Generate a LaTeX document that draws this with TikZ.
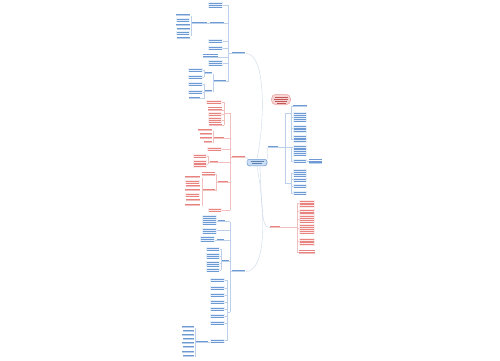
\documentclass[tikz,border=0pt]{standalone}
\definecolor{bT}{HTML}{6E9AD3}
\definecolor{bF}{HTML}{E8F0FB}
\definecolor{bL}{HTML}{BCD0EA}
\definecolor{rT}{HTML}{E8847F}
\definecolor{rF}{HTML}{FDEBEB}
\definecolor{rL}{HTML}{F2BFBF}
\definecolor{mainL}{HTML}{CCD9E9}
\definecolor{rootF}{HTML}{C9DDF4}
\definecolor{rootD}{HTML}{6A98D0}
\definecolor{titF}{HTML}{F9D4D4}
\definecolor{titD}{HTML}{E8A0A0}
\definecolor{titT}{HTML}{C05858}
\tikzset{tl/.style={line width=0.55pt}, conn/.style={line width=0.4pt}}
\newcommand\mmblk[5]{%
  \fill[#5F] (#1,#2) rectangle ++(#3,{#4*1.8+0.8});
  \foreach \k in {1,...,#4}{\draw[#5T,tl] ({#1+0.6},{#2+\k*1.8-0.2}) -- ++({#3-1.2},0);}
}
\newcommand\mmtxt[5]{%
  \foreach \k in {1,...,#4}{\draw[#5T,tl] (#1,{#2+\k*1.8-0.2}) -- ++(#3,0);}
  \draw[#5L,conn] (#1,{#2+#4*1.8+0.6}) -- ++(#3,0);
}
\newcommand\mmlab[4]{%
  \draw[#4T,tl] (#1,{#2-1}) -- ++(#3,0);
  \draw[#4L,conn] (#1,{#2+0.5}) -- ++(#3,0);
}
\newcommand\mmtick[4]{\draw[#4L,conn] (#1,#3) -- (#2,#3);}
\newcommand\mmvbr[4]{\draw[#4L,conn] (#1,#2) -- (#1,#3);}
\begin{document}
\begin{tikzpicture}[x=1pt,y=-1pt]
\useasboundingbox (0,0) rectangle (500,360);
\fill[white] (0,0) rectangle (500,360);

% ---------- root and title
\node[draw=rootD, fill=rootF, rounded corners=2.5pt, line width=0.5pt,
      minimum width=20pt, minimum height=6.5pt, inner sep=0pt] (root) at (257,162.5) {};
\draw[rootD!85!black,line width=0.5pt] (250.5,161.3) -- (263.5,161.3);
\draw[rootD!85!black,line width=0.5pt] (252,163.6) -- (262,163.6);

\node[draw=titD, fill=titF, rounded corners=4.5pt, line width=0.5pt,
      minimum width=19pt, minimum height=10.5pt, inner sep=0pt] (title) at (281,99.5) {};
\foreach \yy/\ww in {96.8/13,98.9/14,101/12,103/9}{\draw[titT,line width=0.5pt] ({281-\ww/2},\yy) -- ++(\ww,0);}

% ---------- main curves
\draw[mainL,conn] (root.north) .. controls (265,120) and (266,53.5) .. (246,53.5);
\draw[mainL,conn] (root.south) .. controls (266,215) and (266,271.5) .. (246,271.5);
\draw[mainL,conn] (root.west) .. controls (249,160) and (248,157.5) .. (245,157.5);
\draw[mainL,conn] (root.north east) .. controls (268,156) and (266,147.5) .. (268,147.5);
\draw[mainL,conn] ([xshift=3pt]root.south) .. controls (262,215) and (262,227.5) .. (270,227.5);

% ---------- A (top left, blue)
\mmlab{232}{53}{13}{b}
\mmtick{228}{232}{53.5}{b}
\mmvbr{228}{5}{81.5}{b}
\mmblk{208}{2}{15}{3}{b}  \mmtick{223}{228}{5}{b}
\mmlab{210}{23}{14}{b}    \mmtick{224}{228}{23.5}{b}
\mmlab{192}{23}{15}{b}    \mmtick{207}{210}{23.5}{b}
\mmvbr{191}{15.5}{35.5}{b}
\mmlab{176}{15}{14}{b}
\mmblk{176}{17.5}{14}{2}{b}
\mmlab{176}{25}{14}{b}
\mmlab{177}{29}{13}{b}
\mmblk{176}{31}{14}{2}{b}
\mmlab{177}{38}{13}{b}
\mmblk{208}{39}{15}{2}{b} \mmtick{223}{228}{41}{b}
\mmblk{208}{46}{15}{2}{b} \mmtick{223}{228}{48}{b}
\mmtxt{203}{52.5}{15}{2}{b} \mmtick{218}{228}{57}{b}
\mmblk{208}{60}{15}{3}{b} \mmtick{223}{228}{63}{b}
\mmlab{214}{81}{12}{b}    \mmtick{226}{228}{81.5}{b}
\mmvbr{213}{73.5}{91.5}{b} \mmtick{213}{214}{81.5}{b}
\mmlab{205}{73}{7}{b}
\mmvbr{204}{70}{77}{b}    \mmtick{204}{205}{73.5}{b}
\mmblk{188}{68}{15}{2}{b} \mmtick{203}{204}{70}{b}
\mmblk{188}{75}{15}{2}{b} \mmtick{203}{204}{77}{b}
\mmlab{205}{91}{7}{b}
\mmvbr{204}{84}{98.5}{b}  \mmtick{204}{205}{91.5}{b}
\mmblk{188}{82}{15}{2}{b} \mmtick{203}{204}{84}{b}
\mmblk{188}{90}{15}{2}{b} \mmtick{203}{204}{92}{b}
\mmlab{189}{98}{11}{b}    \mmtick{200}{204}{98.5}{b}

% ---------- B (middle left, red)
\mmlab{232}{157}{13}{r}
\mmtick{230}{232}{157.5}{r}
\mmvbr{230}{113}{210}{r}
\mmvbr{224}{102}{125}{r} \mmtick{224}{230}{113}{r}
\mmblk{206}{100}{16}{2}{r} \mmtick{222}{224}{102}{r}
\mmtxt{208}{106}{14}{2}{r} \mmtick{222}{224}{110}{r}
\mmblk{208}{112}{14}{2}{r} \mmtick{222}{224}{114}{r}
\mmblk{208}{117}{14}{3}{r} \mmtick{222}{224}{120}{r}
\mmlab{209}{125}{13}{r}    \mmtick{222}{224}{125}{r}
\mmlab{214}{138}{10}{r}    \mmtick{224}{230}{138.5}{r}
\mmvbr{213}{130.5}{142.5}{r} \mmtick{213}{214}{138.5}{r}
\mmlab{198}{130}{14}{r}
\mmlab{200}{134}{12}{r}
\mmlab{200}{138}{12}{r}
\mmlab{204}{142}{8}{r}
\mmblk{207}{147}{15}{2}{r} \mmtick{222}{230}{149}{r}
\mmlab{210}{162}{8}{r}     \mmtick{218}{230}{162.5}{r}
\mmvbr{208}{156}{164}{r}   \mmtick{208}{210}{162.5}{r}
\mmblk{193}{153.5}{14}{2}{r} \mmtick{207}{208}{156}{r}
\mmblk{193}{159.5}{14}{4}{r} \mmtick{207}{208}{164}{r}
\mmlab{218}{182}{10}{r}    \mmtick{228}{230}{182.5}{r}
\mmvbr{216}{174}{190.5}{r} \mmtick{216}{218}{182.5}{r}
\mmtxt{202}{170.5}{13}{2}{r} \mmtick{215}{216}{174}{r}
\mmlab{203}{190}{12}{r}    \mmtick{215}{216}{190.5}{r}
\mmvbr{202}{177.5}{205.5}{r} \mmtick{202}{203}{190.5}{r}
\mmlab{185}{177}{15}{r}
\mmblk{185}{179.5}{15}{2}{r}
\mmlab{186}{186}{14}{r}
\mmlab{185}{190}{15}{r}
\mmblk{185}{192.5}{15}{2}{r}
\mmlab{186}{200}{14}{r}
\mmlab{185}{205}{15}{r}
\mmblk{208}{208}{14}{2}{r} \mmtick{222}{230}{210}{r}

% ---------- C (bottom left, blue)
\mmlab{232}{271}{13}{b}
\mmtick{230}{232}{271.5}{b}
\mmvbr{230}{221.5}{312}{b}
\mmlab{218}{221}{7}{b}     \mmtick{225}{230}{221.5}{b}
\mmblk{202}{215}{15}{5}{b} \mmtick{217}{218}{221.5}{b}
\mmblk{202}{228}{15}{3}{b} \mmtick{217}{230}{230.5}{b}
\mmlab{217}{240}{7}{b}     \mmtick{224}{230}{240.5}{b}
\mmblk{200}{236}{15}{3}{b} \mmtick{215}{217}{240.5}{b}
\mmlab{222}{261}{7}{b}     \mmtick{229}{230}{261.5}{b}
\mmvbr{221}{249}{270}{b}   \mmtick{221}{222}{261.5}{b}
\mmblk{206}{247}{14}{2}{b} \mmtick{220}{221}{249}{b}
\mmblk{206}{253}{14}{3}{b} \mmtick{220}{221}{256}{b}
\mmblk{206}{261}{14}{3}{b} \mmtick{220}{221}{263}{b}
\mmblk{206}{268}{14}{2}{b} \mmtick{220}{221}{270}{b}
\mmvbr{227}{280}{340.5}{b} \mmtick{227}{230}{312}{b}
\foreach \yy in {278,286,293,300,307,314,321}{
  \mmblk{210}{\yy}{15}{2}{b} \mmtick{225}{227}{\yy+2}{b}}
\mmblk{210}{338.5}{15}{2}{b} \mmtick{225}{227}{340.5}{b}
\mmlab{196}{342}{12}{b}    \mmtick{208}{210}{342.5}{b}
\mmvbr{195}{327.5}{356.5}{b} \mmtick{195}{196}{342.5}{b}
\foreach \yy/\ww in {327/12,331/11,335/12,339/11,343/12,347/11,352/12,356/11}{
  \mmlab{{194-\ww}}{\yy}{\ww}{b}}

% ---------- D (right, blue)
\mmlab{268}{147}{10}{b}
\mmtick{278}{285}{147.5}{b}
\mmvbr{285}{113}{183}{b}
\mmvbr{291}{106}{139}{b}  \mmtick{285}{291}{113}{b}
\mmlab{293}{106}{14}{b}   \mmtick{291}{293}{106.5}{b}
\mmblk{293}{112}{14}{5}{b} \mmtick{291}{293}{117}{b}
\mmblk{293}{124.5}{14}{4}{b} \mmtick{291}{293}{128}{b}
\mmblk{293}{134.5}{14}{4}{b} \mmtick{291}{293}{139}{b}
\mmvbr{291}{147.5}{161}{b}
\mmblk{293}{144.5}{14}{6}{b} \mmtick{285}{293}{147.5}{b}
\mmblk{293}{159}{14}{2}{b} \mmtick{291}{293}{161}{b}
\mmtxt{309}{157.5}{13}{3}{b} \mmtick{307}{309}{161}{b}
\mmvbr{291}{173}{193}{b}  \mmtick{285}{291}{183}{b}
\mmblk{293}{169}{14}{4}{b} \mmtick{291}{293}{173}{b}
\mmblk{293}{177.5}{14}{2}{b} \mmtick{291}{293}{179.5}{b}
\mmblk{293}{184}{14}{2}{b} \mmtick{291}{293}{186}{b}
\mmblk{293}{191}{14}{2}{b} \mmtick{291}{293}{193}{b}

% ---------- E (right, red)
\mmlab{270}{227}{10}{r}
\mmtick{280}{297}{227.5}{r}
\mmvbr{297}{203}{252}{r}
\mmblk{299}{199.5}{16}{4}{r} \mmtick{297}{299}{203}{r}
\mmblk{299}{208.5}{16}{3}{r} \mmtick{297}{299}{211}{r}
\mmblk{299}{215}{16}{4}{r}   \mmtick{297}{299}{219}{r}
\mmblk{299}{224}{16}{5}{r}   \mmtick{297}{299}{228}{r}
\mmblk{299}{237.5}{16}{4}{r} \mmtick{297}{299}{241}{r}
\mmtxt{299}{249}{16}{2}{r}   \mmtick{297}{299}{252}{r}
\end{tikzpicture}
\end{document}
